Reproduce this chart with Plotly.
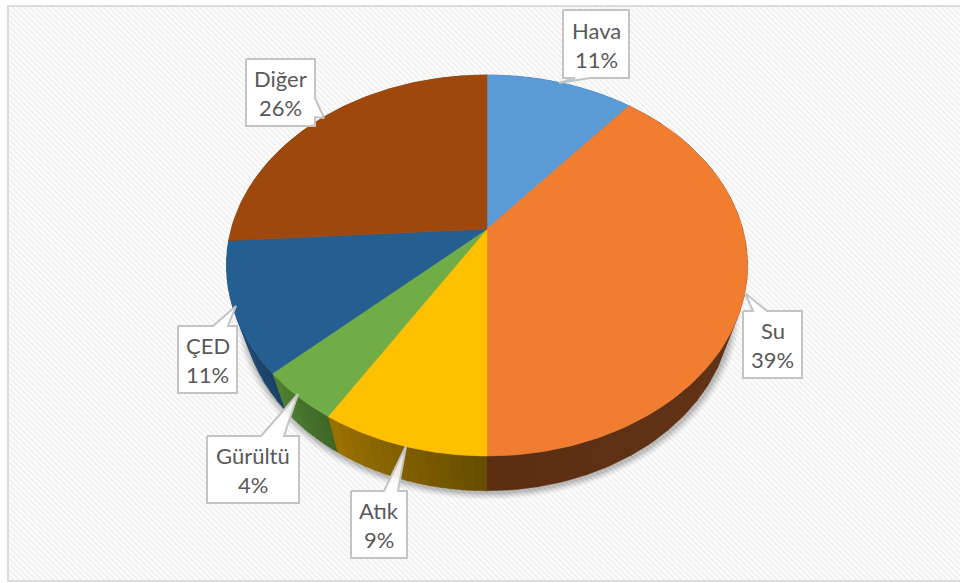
import numpy as np
import plotly.graph_objects as go

# ---- data ----
categories = ["Hava", "Su", "Atık", "Gürültü", "ÇED", "Diğer"]
values = [11, 39, 8.7, 4.3, 11, 26]

# ---- styles ----
top_colors = ["#5B9BD5", "#F07D30", "#FFC000", "#70AD47", "#255E91", "#9E480E"]
wall_start = ["#3B6A96", "#67361A", "#654C00", "#3F6628", "#1A4268", "#6E3209"]
wall_end = ["#3B6A96", "#5C2F13", "#9C7200", "#4F8031", "#1C4A75", "#6E3209"]
box_layout = {
    "Hava": dict(box=(563, 10, 629, 78), tip=(559, 83), base=[(590, 78), (575, 78)]),
    "Su": dict(box=(743, 311, 802, 378), tip=(745, 293), base=[(753, 311), (767, 311)]),
    "Atık": dict(box=(351, 491, 407, 558), tip=(406, 446), base=[(384, 491), (398, 491)]),
    "Gürültü": dict(box=(207, 436, 299, 503), tip=(298, 394), base=[(261, 436), (284, 436)]),
    "ÇED": dict(box=(178, 326, 237, 393), tip=(236, 306), base=[(213, 326), (228, 326)]),
    "Diğer": dict(box=(246, 59, 315, 126), tip=(324, 118), base=[(315, 98), (315, 117)]),
}

W, H = 960, 583
CX, CY = 487.0, 229.0
A, B, K = 255.7, 183.5, 0.1916  # perspective of the pie disc
WALL_CY, WALL_SX, WALL_SY = 269.5, 0.94, 0.975


def top_disc(f):
    t = 2 * np.pi * np.asarray(f, float)
    d = 1 + K * np.cos(t)
    return CX + A * np.sin(t) / d, CY - B * np.cos(t) / d


def low_disc(f, grow=0.0, dx=0.0, dy=0.0):
    x, y = top_disc(f)
    return (CX + dx + (WALL_SX + grow) * (x - CX),
            WALL_CY + dy + (WALL_SY + grow) * (y - CY))


def mix(c1, c2, s):
    a = [int(c1[i:i + 2], 16) for i in (1, 3, 5)]
    b = [int(c2[i:i + 2], 16) for i in (1, 3, 5)]
    return "rgb(%d,%d,%d)" % tuple(round(p + (q - p) * s) for p, q in zip(a, b))


def poly(x, y, fill, line=None, width=0):
    return go.Scatter(x=list(x), y=list(y), mode="lines", fill="toself", fillcolor=fill,
                      line=dict(color=line or fill, width=width), hoverinfo="skip", showlegend=False)


total = sum(values)
edges = np.concatenate([[0], np.cumsum(values)]) / total

fig = go.Figure()

# soft shadow under the pie
ff = np.linspace(0, 1, 361)
for g, op in [(0.030, 0.03), (0.024, 0.04), (0.018, 0.05), (0.012, 0.065), (0.006, 0.08)]:
    sx, sy = low_disc(ff, g, 1, 2)
    fig.add_trace(poly(sx, sy, f"rgba(0,0,0,{op})"))

# side walls, front part only shows
for i in range(len(values)):
    n = 14
    cuts = np.linspace(edges[i], edges[i + 1], n + 1)
    for j in range(n):
        f = np.linspace(cuts[j], cuts[j + 1] + 0.0005, 8)
        tx, ty = top_disc(f)
        lx, ly = low_disc(f)
        c = mix(wall_start[i], wall_end[i], (j + 0.5) / n)
        fig.add_trace(poly(np.r_[tx, lx[::-1]], np.r_[ty, ly[::-1]], c, c, 0.5))

# top face
for i, name in enumerate(categories):
    f = np.linspace(edges[i], edges[i + 1], max(int(values[i] * 4), 12))
    x, y = top_disc(f)
    fig.add_trace(poly(np.r_[CX, x, CX], np.r_[CY, y, CY], top_colors[i], top_colors[i], 0.5))

# data label callouts
annotations = []
for name, v in zip(categories, values):
    s = box_layout[name]
    x0, y0, x1, y1 = s["box"]
    (bx0, by0), (bx1, by1) = s["base"]
    tx, ty = s["tip"]
    if by0 == y0 and by1 == y0:
        pts = [(x0, y0), (bx0, by0), (tx, ty), (bx1, by1), (x1, y0), (x1, y1), (x0, y1)]
    elif by0 == y1 and by1 == y1:
        pts = [(x0, y0), (x1, y0), (x1, y1), (bx0, by0), (tx, ty), (bx1, by1), (x0, y1)]
    else:
        pts = [(x0, y0), (x1, y0), (bx0, by0), (tx, ty), (bx1, by1), (x1, y1), (x0, y1)]
    pts.append(pts[0])
    fig.add_trace(poly([p[0] for p in pts], [p[1] for p in pts],
                       "rgba(255,255,255,0.88)", "#C4C4C4", 2))
    xc, yc = (x0 + x1) / 2, (y0 + y1) / 2
    for text, off in [(name, -14), (f"{round(v)}%", 15)]:
        annotations.append(dict(x=xc, y=yc + off, text=text, showarrow=False, xanchor="center",
                                yanchor="middle", font=dict(family="Lato", size=22, color="#595959")))

# hatched chart area and its frame
hatch = []
for c in np.arange(-600, 960, 5.66):
    x_a, x_b = max(c, 8), min(c + 575, 960)
    if x_a < x_b:
        hatch.append(f"M{x_a:.2f},{6 + (x_a - c):.2f} L{x_b:.2f},{6 + (x_b - c):.2f}")
fx0, fy0, fx1, fy1 = 8, 6, 962, 581
shapes = [
    dict(type="rect", xref="x", yref="y", x0=fx0, y0=fy0, x1=fx1, y1=fy1, layer="below",
         fillcolor="#FDFDFD", line=dict(width=0)),
    dict(type="path", xref="x", yref="y", path=" ".join(hatch), layer="below",
         line=dict(color="#F1F1F1", width=2)),
    dict(type="rect", xref="x", yref="y", x0=fx0, y0=fy0, x1=fx1, y1=fy1, layer="below",
         fillcolor="rgba(0,0,0,0)", line=dict(color="#DCDCDC", width=2)),
]

fig.update_layout(
    width=W, height=H, margin=dict(l=0, r=0, t=0, b=0), autosize=False,
    paper_bgcolor="white", plot_bgcolor="white", showlegend=False,
    xaxis=dict(range=[0, W], visible=False, domain=[0, 1], fixedrange=True),
    yaxis=dict(range=[H, 0], visible=False, domain=[0, 1], fixedrange=True),
    shapes=shapes, annotations=annotations,
)
fig.write_html("out.html", config=dict(displayModeBar=False),
               post_script="document.body.style.margin='0';document.body.style.overflow='hidden';")
